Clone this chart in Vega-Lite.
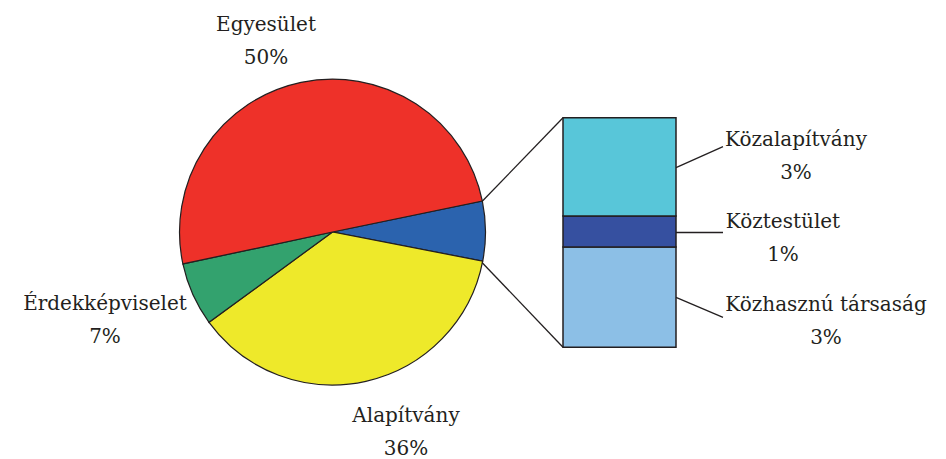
{
  "$schema": "https://vega.github.io/schema/vega-lite/v6.json",
  "width": 946,
  "height": 459,
  "padding": 0,
  "autosize": {"type": "fit", "contains": "padding"},
  "background": "white",
  "config": {
    "view": {"stroke": null},
    "text": {"font": "DejaVu Serif", "fontSize": 20, "lineHeight": 33, "align": "center", "baseline": "alphabetic", "fill": "#231f20", "lineBreak": "\n"}
  },
  "datasets": {
    "pie": [
      {"category": "Egyéb", "value": 6.3, "k": 1, "label": ""},
      {"category": "Alapítvány", "value": 36.9, "k": 2, "label": "Alapítvány\n36%"},
      {"category": "Érdekképviselet", "value": 6.7, "k": 3, "label": "Érdekképviselet\n7%"},
      {"category": "Egyesület", "value": 50.1, "k": 4, "label": "Egyesület\n50%"}
    ],
    "bar": [
      {"category": "Közhasznú társaság", "value": 2.75, "k": 1, "label": "Közhasznú társaság\n3%"},
      {"category": "Köztestület", "value": 0.85, "k": 2, "label": "Köztestület\n1%"},
      {"category": "Közalapítvány", "value": 2.7, "k": 3, "label": "Közalapítvány\n3%"}
    ],
    "one": [{}]
  },
  "layer": [
    {
      "layer": [
        {
          "data": {"name": "pie"},
          "mark": {"type": "arc", "radius": 153, "stroke": "#231f20", "strokeWidth": 1.2},
          "encoding": {
            "theta": {"field": "value", "type": "quantitative", "stack": true, "scale": {"range": [1.3666, 7.6498]}},
            "order": {"field": "k", "type": "quantitative"},
            "color": {"field": "category", "type": "nominal", "legend": null,
              "scale": {"domain": ["Egyéb", "Alapítvány", "Érdekképviselet", "Egyesület"], "range": ["#2b63ae", "#eee92a", "#33a26e", "#ee3129"]}},
            "x": {"datum": 332.5, "type": "quantitative", "axis": null, "scale": {"domain": [0, 946], "nice": false, "zero": false}},
            "y": {"datum": 232.5, "type": "quantitative", "axis": null, "scale": {"domain": [459, 0], "nice": false, "zero": false}}
          }
        },
        {
          "data": {"name": "one"},
          "mark": {"type": "rule", "stroke": "#231f20", "strokeWidth": 1.3},
          "encoding": {
            "x": {"datum": 482, "type": "quantitative", "axis": null, "scale": {"domain": [0, 946], "nice": false, "zero": false}},
            "y": {"datum": 202, "type": "quantitative", "axis": null, "scale": {"domain": [459, 0], "nice": false, "zero": false}},
            "x2": {"datum": 563},
            "y2": {"datum": 118}
          }
        },
        {
          "data": {"name": "one"},
          "mark": {"type": "rule", "stroke": "#231f20", "strokeWidth": 1.3},
          "encoding": {
            "x": {"datum": 482, "type": "quantitative", "axis": null, "scale": {"domain": [0, 946], "nice": false, "zero": false}},
            "y": {"datum": 263, "type": "quantitative", "axis": null, "scale": {"domain": [459, 0], "nice": false, "zero": false}},
            "x2": {"datum": 563},
            "y2": {"datum": 348}
          }
        },
        {
          "data": {"name": "one"},
          "mark": {"type": "rule", "stroke": "#231f20", "strokeWidth": 1.3},
          "encoding": {
            "x": {"datum": 676, "type": "quantitative", "axis": null, "scale": {"domain": [0, 946], "nice": false, "zero": false}},
            "y": {"datum": 168, "type": "quantitative", "axis": null, "scale": {"domain": [459, 0], "nice": false, "zero": false}},
            "x2": {"datum": 723},
            "y2": {"datum": 147}
          }
        },
        {
          "data": {"name": "one"},
          "mark": {"type": "rule", "stroke": "#231f20", "strokeWidth": 1.3},
          "encoding": {
            "x": {"datum": 676, "type": "quantitative", "axis": null, "scale": {"domain": [0, 946], "nice": false, "zero": false}},
            "y": {"datum": 233, "type": "quantitative", "axis": null, "scale": {"domain": [459, 0], "nice": false, "zero": false}},
            "x2": {"datum": 723},
            "y2": {"datum": 233}
          }
        },
        {
          "data": {"name": "one"},
          "mark": {"type": "rule", "stroke": "#231f20", "strokeWidth": 1.3},
          "encoding": {
            "x": {"datum": 676, "type": "quantitative", "axis": null, "scale": {"domain": [0, 946], "nice": false, "zero": false}},
            "y": {"datum": 298, "type": "quantitative", "axis": null, "scale": {"domain": [459, 0], "nice": false, "zero": false}},
            "x2": {"datum": 723},
            "y2": {"datum": 318}
          }
        },
        {
          "data": {"name": "pie"},
          "transform": [{"filter": "datum.category === 'Egyesület'"}],
          "mark": {"type": "text"},
          "encoding": {
            "text": {"field": "label"},
            "x": {"datum": 266, "type": "quantitative", "axis": null, "scale": {"domain": [0, 946], "nice": false, "zero": false}},
            "y": {"datum": 31, "type": "quantitative", "axis": null, "scale": {"domain": [459, 0], "nice": false, "zero": false}}
          }
        },
        {
          "data": {"name": "pie"},
          "transform": [{"filter": "datum.category === 'Alapítvány'"}],
          "mark": {"type": "text"},
          "encoding": {
            "text": {"field": "label"},
            "x": {"datum": 406, "type": "quantitative", "axis": null, "scale": {"domain": [0, 946], "nice": false, "zero": false}},
            "y": {"datum": 423, "type": "quantitative", "axis": null, "scale": {"domain": [459, 0], "nice": false, "zero": false}}
          }
        },
        {
          "data": {"name": "pie"},
          "transform": [{"filter": "datum.category === 'Érdekképviselet'"}],
          "mark": {"type": "text"},
          "encoding": {
            "text": {"field": "label"},
            "x": {"datum": 105, "type": "quantitative", "axis": null, "scale": {"domain": [0, 946], "nice": false, "zero": false}},
            "y": {"datum": 311, "type": "quantitative", "axis": null, "scale": {"domain": [459, 0], "nice": false, "zero": false}}
          }
        },
        {
          "data": {"name": "bar"},
          "transform": [{"filter": "datum.category === 'Közalapítvány'"}],
          "mark": {"type": "text"},
          "encoding": {
            "text": {"field": "label"},
            "x": {"datum": 796, "type": "quantitative", "axis": null, "scale": {"domain": [0, 946], "nice": false, "zero": false}},
            "y": {"datum": 146, "type": "quantitative", "axis": null, "scale": {"domain": [459, 0], "nice": false, "zero": false}}
          }
        },
        {
          "data": {"name": "bar"},
          "transform": [{"filter": "datum.category === 'Köztestület'"}],
          "mark": {"type": "text"},
          "encoding": {
            "text": {"field": "label"},
            "x": {"datum": 783, "type": "quantitative", "axis": null, "scale": {"domain": [0, 946], "nice": false, "zero": false}},
            "y": {"datum": 228, "type": "quantitative", "axis": null, "scale": {"domain": [459, 0], "nice": false, "zero": false}}
          }
        },
        {
          "data": {"name": "bar"},
          "transform": [{"filter": "datum.category === 'Közhasznú társaság'"}],
          "mark": {"type": "text"},
          "encoding": {
            "text": {"field": "label"},
            "x": {"datum": 826, "type": "quantitative", "axis": null, "scale": {"domain": [0, 946], "nice": false, "zero": false}},
            "y": {"datum": 312, "type": "quantitative", "axis": null, "scale": {"domain": [459, 0], "nice": false, "zero": false}}
          }
        }
      ]
    },
    {
      "data": {"name": "bar"},
      "transform": [{"stack": "value", "groupby": [], "sort": [{"field": "k", "order": "ascending"}], "as": ["v0", "v1"]}],
      "mark": {"type": "rect", "stroke": "#231f20", "strokeWidth": 1.5},
      "encoding": {
        "x": {"datum": 563, "type": "quantitative", "axis": null, "scale": {"domain": [0, 946], "nice": false, "zero": false}},
        "x2": {"datum": 676},
        "y": {"field": "v0", "type": "quantitative", "axis": null, "scale": {"domain": [-3.0404, 9.5322], "nice": false, "zero": false}},
        "y2": {"field": "v1"},
        "color": {"field": "category", "type": "nominal", "legend": null,
          "scale": {"domain": ["Közalapítvány", "Köztestület", "Közhasznú társaság"], "range": ["#58c6d9", "#3650a0", "#8cbfe6"]}}
      }
    }
  ],
  "resolve": {"scale": {"y": "independent", "color": "independent"}}
}
